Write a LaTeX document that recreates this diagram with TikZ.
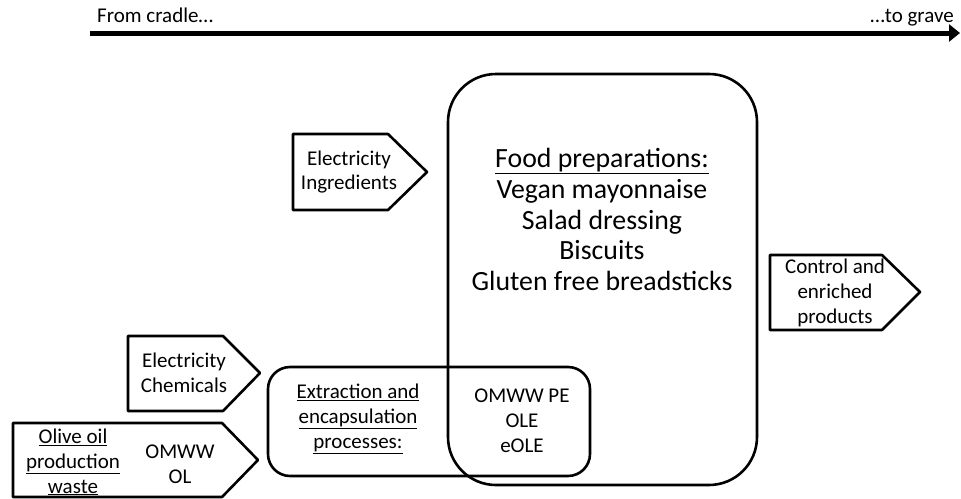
\documentclass[tikz,border=0pt]{standalone}
\usepackage{fontspec}
\setmainfont{Carlito}
\usepackage{tikz}
\usetikzlibrary{
  positioning,
  arrows.meta
}

\begin{document}
\begin{tikzpicture}[x=1pt,y=-1pt,>={Triangle[length=11pt,width=17pt]},
    box/.style={line width=2.6pt,line join=round},
    small/.style={font=\fontsize{21}{24.8}\selectfont,align=center,inner sep=0pt},
    big/.style={font=\fontsize{27.8}{30.8}\selectfont,align=center,inner sep=0pt}]
            \useasboundingbox (0,0) rectangle (961,498);
            % time line
            \draw[->,line width=5pt] (90,33) -- (960,33);
            \node[small,anchor=base west] (cradle) at (97,22) {From cradle…};
            \node[small,anchor=base east] (grave) at (954,22) {…to grave};
            % process boxes
            \draw[box,rounded corners=48pt] (448,74) rectangle (757,485);
            \draw[box,rounded corners=22pt] (268,367) rectangle (590,476);
            \node[big] (food) at (602,219.5) {\underline{Food preparations:}\\Vegan mayonnaise\\Salad dressing\\Biscuits\\Gluten free breadsticks};
            \node[small] (extract) at (358,419) {\underline{Extraction and}\\\underline{encapsulation}\\\underline{processes:}};
            \node[small] (extracts) at (522,421) {OMWW PE\\OLE\\eOLE};
            % inputs and outputs
            \draw[box] (293,134) -- (388,134) -- (427,172) -- (388,210) -- (293,210) -- cycle;
            \node[small] (ingr) at (349,172) {Electricity\\Ingredients};
            \draw[box] (128,336) -- (223,336) -- (260,373) -- (223,411) -- (128,411) -- cycle;
            \node[small] (chem) at (184,373) {Electricity\\Chemicals};
            \draw[box] (13,423) -- (222,423) -- (258,460) -- (222,497) -- (13,497) -- cycle;
            \node[small] (waste) at (73,462) {\underline{Olive oil}\\\underline{production}\\\underline{waste}};
            \node[small] (omww) at (180,464) {OMWW\\OL};
            \draw[box] (770,255) -- (882,255) -- (920,292) -- (882,330) -- (770,330) -- cycle;
            \node[small] (prod) at (835,293) {Control and\\enriched\\products};
        \end{tikzpicture}
\end{document}
